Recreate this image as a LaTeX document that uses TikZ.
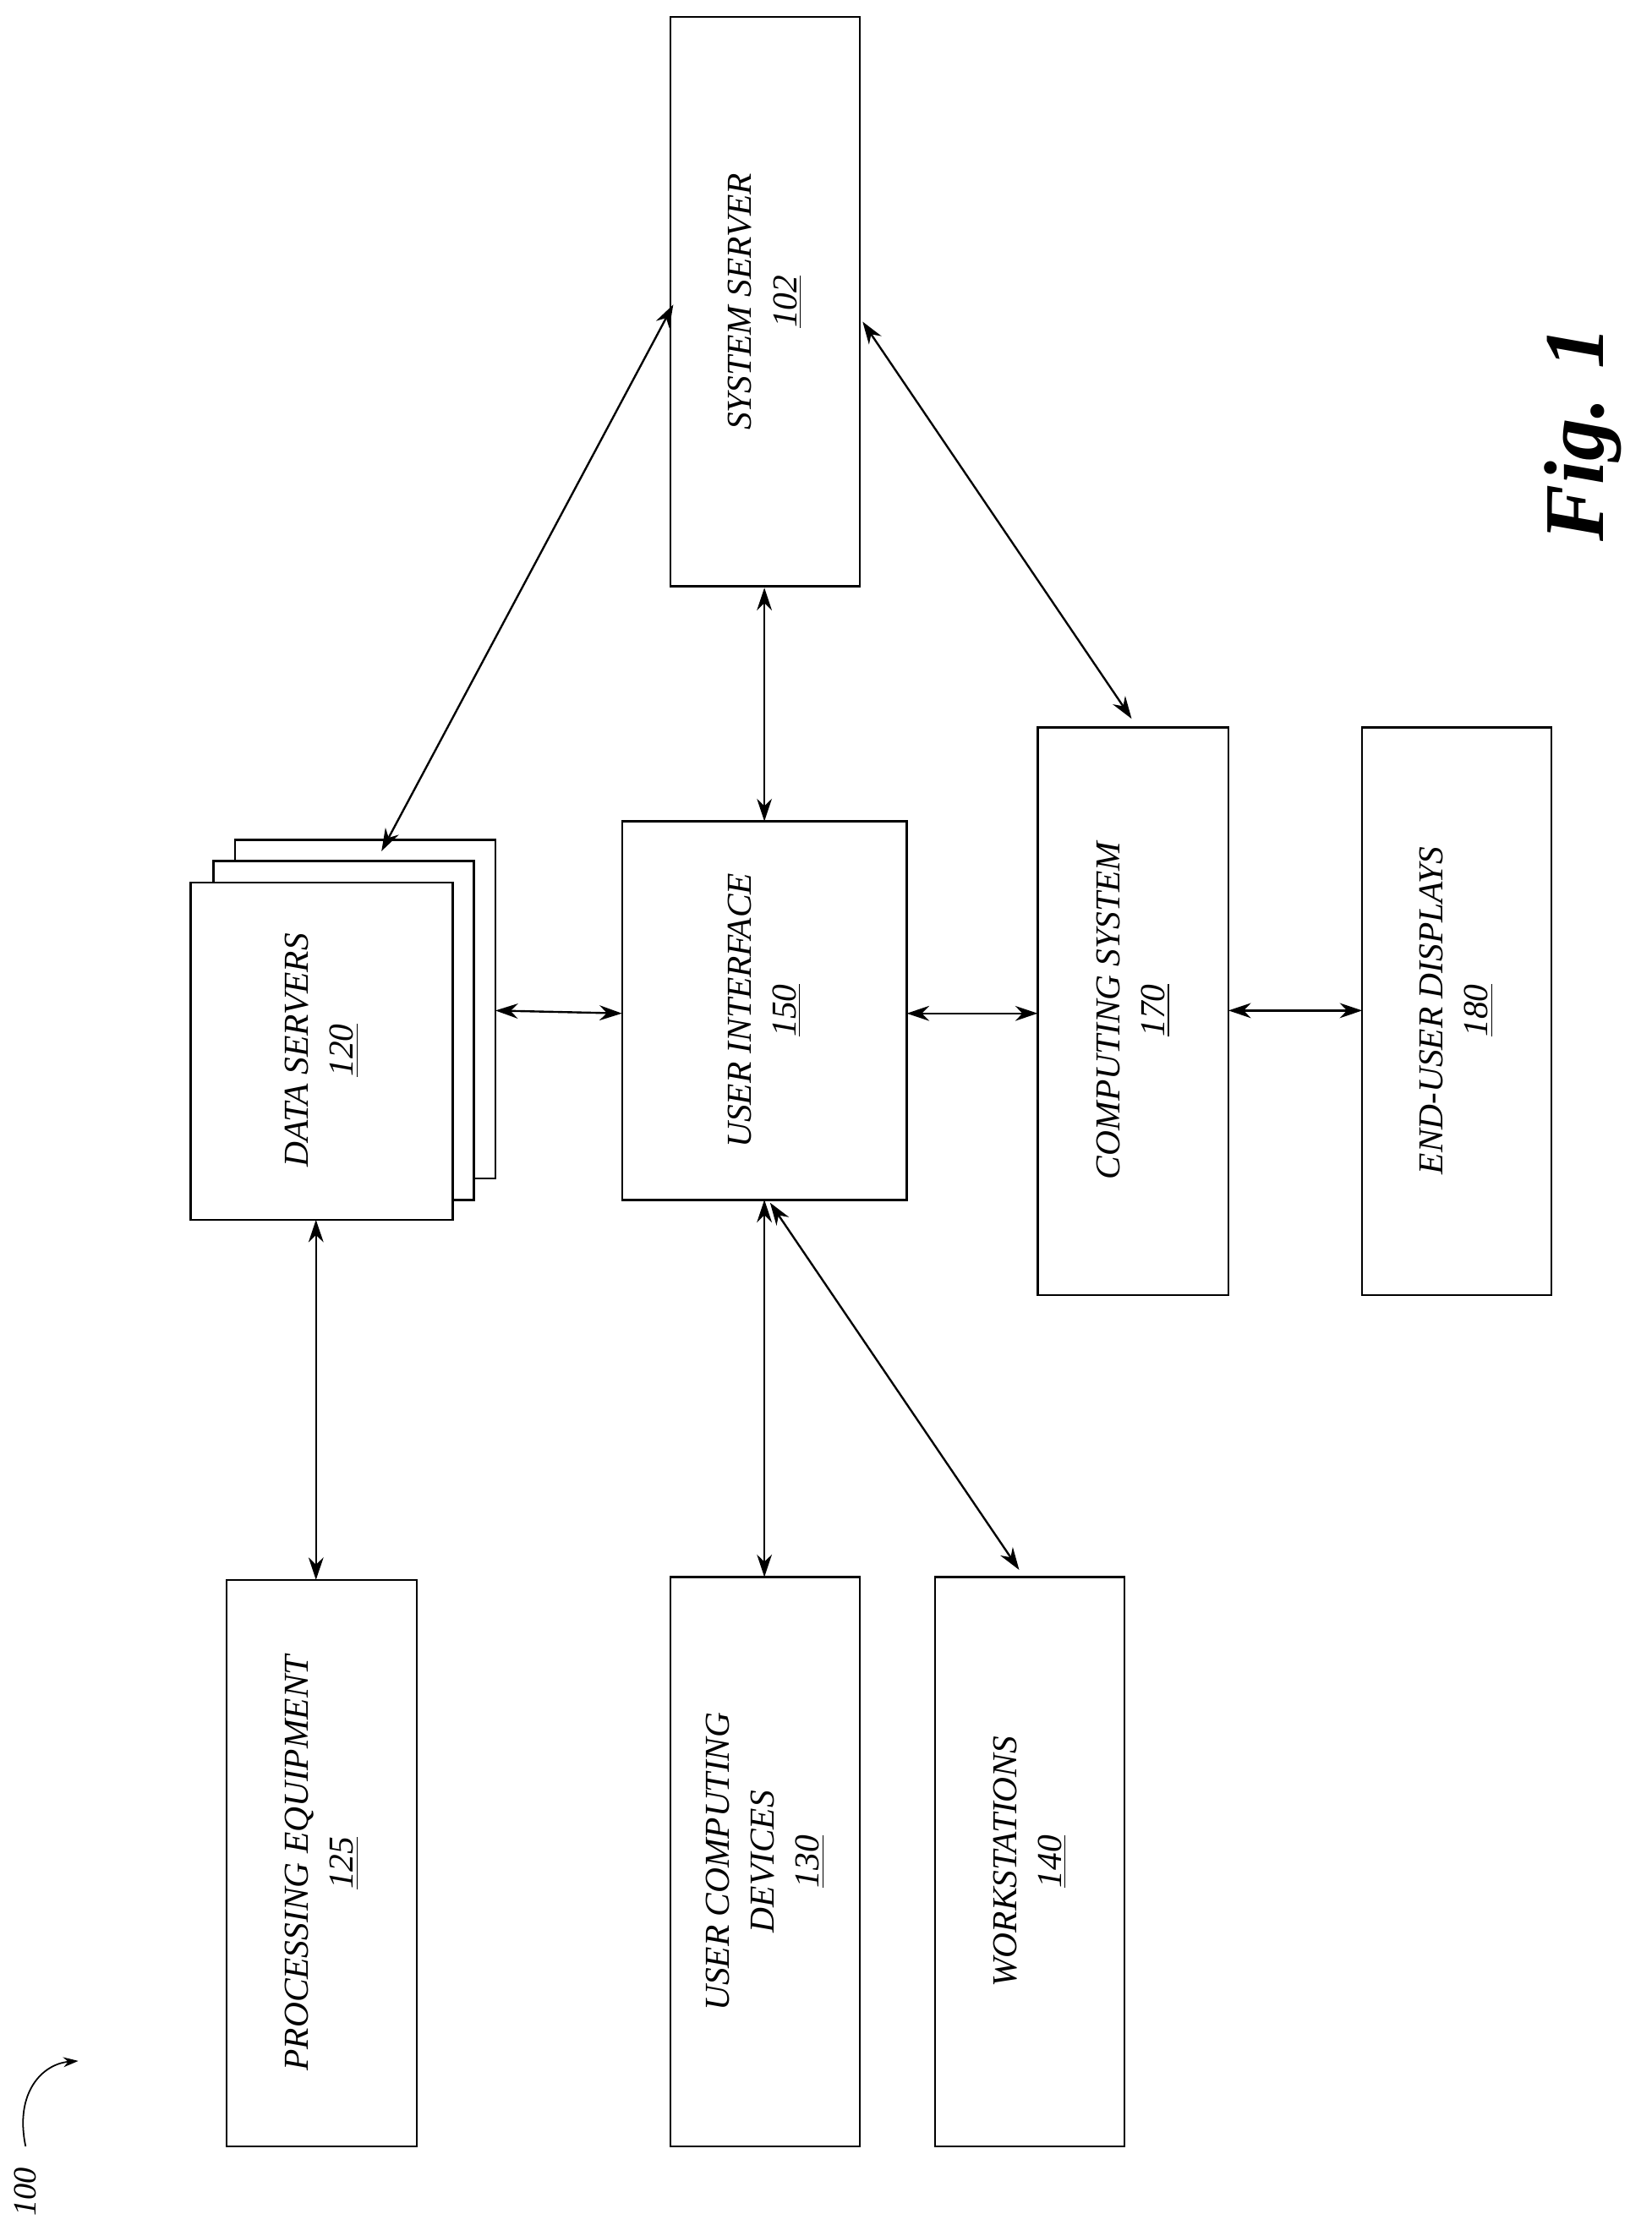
\documentclass[tikz,border=0pt]{standalone}
\usepackage{fontspec}
\setmainfont{Liberation Serif}
\usetikzlibrary{arrows.meta}
\begin{document}
\begin{tikzpicture}[x=0.02cm,y=-0.02cm,
 box/.style={draw,line width=0.8pt,fill=white},
 lab/.style={rotate=90,align=center,font=\itshape\fontsize{14}{18}\selectfont},
 arr/.style={line width=0.8pt,{Stealth[length=9pt,width=6pt]}-{Stealth[length=9pt,width=6pt]}}]
\useasboundingbox (0,0) rectangle (1160,1571);
\draw[box] (471,12) rectangle (604,412) coordinate (ss);
\node[lab] (sst) at (537.5,212) {SYSTEM SERVER\\\underline{102}};
\draw[box] (165,590) rectangle (348,828);
\draw[box] (150,605) rectangle (333,843);
\draw[box] (134,620) rectangle (318,857);
\node[lab] (dst) at (226,738) {DATA SERVERS\\\underline{120}};
\draw[box] (437,577) rectangle (637,843);
\node[lab] (uit) at (537,710) {USER INTERFACE\\\underline{150}};
\draw[box] (729,511) rectangle (863,910);
\node[lab] (cst) at (796,710) {COMPUTING SYSTEM\\\underline{170}};
\draw[box] (957,511) rectangle (1090,910);
\node[lab] (edt) at (1023,710) {END-USER DISPLAYS\\\underline{180}};
\draw[box] (159,1110) rectangle (293,1508);
\node[lab] (pet) at (226,1309) {PROCESSING EQUIPMENT\\\underline{125}};
\draw[box] (471,1108) rectangle (604,1508);
\node[lab] (uct) at (537.5,1308) {USER COMPUTING\\DEVICES\\\underline{130}};
\draw[box] (657,1108) rectangle (790,1508);
\node[lab] (wst) at (723.5,1308) {WORKSTATIONS\\\underline{140}};
\node[rotate=90,font=\bfseries\itshape\fontsize{34}{40}\selectfont] (fig) at (1112,305) {Fig. 1};
\node[rotate=90,font=\itshape\fontsize{13}{16}\selectfont] (n100) at (18,1540) {100};
\coordinate (a) at (268,598); \coordinate (b) at (473,214);
\draw[arr] (a) -- (b);
\coordinate (c) at (537,577); \coordinate (d) at (537,413);
\draw[arr] (c) -- (d);
\coordinate (e) at (606,226); \coordinate (f) at (795,505);
\draw[arr] (e) -- (f);
\coordinate (g) at (348,710); \coordinate (h) at (437,712);
\draw[arr] (g) -- (h);
\coordinate (i) at (637,712); \coordinate (j) at (729,712);
\draw[arr] (i) -- (j);
\coordinate (k) at (863,710); \coordinate (l) at (957,710);
\draw[arr] (k) -- (l);
\coordinate (m) at (222,857); \coordinate (n) at (222,1110);
\draw[arr] (m) -- (n);
\coordinate (o) at (537,843); \coordinate (p) at (537,1108);
\draw[arr] (o) -- (p);
\coordinate (q) at (541,845); \coordinate (r) at (716,1103);
\draw[arr] (q) -- (r);
\coordinate (s) at (18,1508); \coordinate (t) at (55,1448);
\draw[line width=0.6pt,-{Stealth[length=6pt,width=4pt]}] (s) .. controls (10,1470) and (30,1450) .. (t);
\end{tikzpicture}
\end{document}
